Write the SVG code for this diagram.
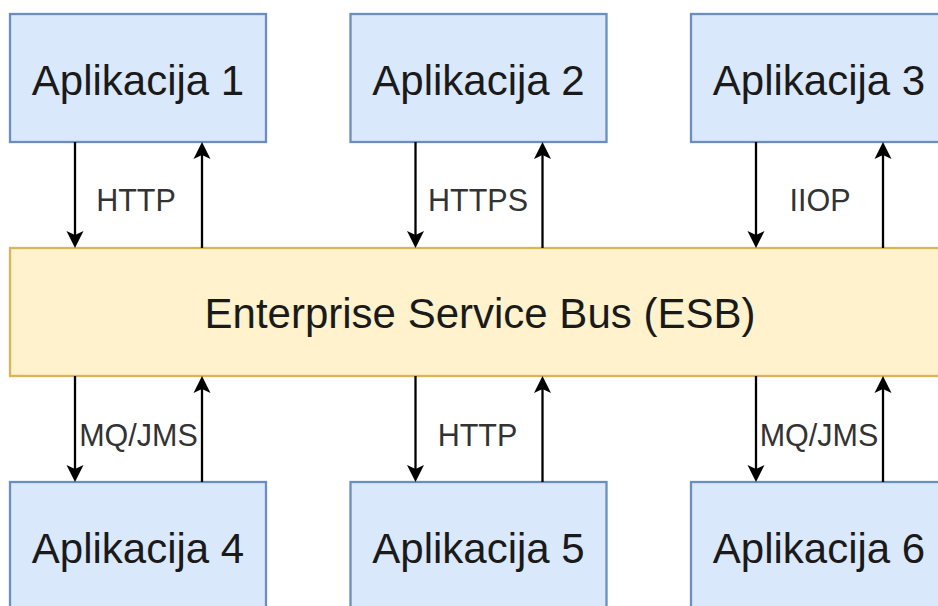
<svg xmlns="http://www.w3.org/2000/svg" width="938" height="606" viewBox="0 0 938 606">
  <style>
    .app { fill: #dae8fc; stroke: #6c8ebf; stroke-width: 2.3; }
    .esb { fill: #fff2cc; stroke: #d6b656; stroke-width: 2.3; }
    .big { font-family: "Liberation Sans", Arial, sans-serif; font-size: 42px; fill: #1a1a1a; text-anchor: middle; }
    .lbl { font-family: "Liberation Sans", Arial, sans-serif; font-size: 30.5px; fill: #333333; text-anchor: middle; }
    .conn { stroke: #000000; stroke-width: 2.3; fill: none; marker-end: url(#arrow); }
  </style>
  <defs>
    <marker id="arrow" markerUnits="userSpaceOnUse" viewBox="-6 -10 22 20" refX="0" refY="0" markerWidth="22" markerHeight="20" orient="auto" overflow="visible">
      <path d="M13,0 L-4,-8.5 L0,0 L-4,8.5 Z" fill="#000000" stroke="none"/>
    </marker>
  </defs>
  <rect width="938" height="606" fill="#ffffff"/>

  <g id="esb">
    <rect class="esb" x="10" y="248" width="940" height="128"/>
    <text class="big" x="480" y="328">Enterprise Service Bus (ESB)</text>
  </g>

  <g id="app1">
    <rect class="app" x="10" y="14" width="256" height="128"/>
    <text class="big" x="138" y="95">Aplikacija 1</text>
  </g>
  <g id="app2">
    <rect class="app" x="350.5" y="14" width="256" height="128"/>
    <text class="big" x="478.5" y="95">Aplikacija 2</text>
  </g>
  <g id="app3">
    <rect class="app" x="691" y="14" width="256" height="128"/>
    <text class="big" x="819" y="95">Aplikacija 3</text>
  </g>
  <g id="app4">
    <rect class="app" x="10" y="482" width="256" height="128"/>
    <text class="big" x="138" y="563">Aplikacija 4</text>
  </g>
  <g id="app5">
    <rect class="app" x="350.5" y="482" width="256" height="128"/>
    <text class="big" x="478.5" y="563">Aplikacija 5</text>
  </g>
  <g id="app6">
    <rect class="app" x="691" y="482" width="256" height="128"/>
    <text class="big" x="819" y="563">Aplikacija 6</text>
  </g>

  <g id="connectors">
    <!-- top: app -> ESB (down) and ESB -> app (up) -->
    <line class="conn" x1="75" y1="142" x2="75" y2="235"/>
    <line class="conn" x1="202" y1="248" x2="202" y2="155"/>
    <line class="conn" x1="415.5" y1="142" x2="415.5" y2="235"/>
    <line class="conn" x1="542.5" y1="248" x2="542.5" y2="155"/>
    <line class="conn" x1="756" y1="142" x2="756" y2="235"/>
    <line class="conn" x1="883" y1="248" x2="883" y2="155"/>
    <!-- bottom: ESB -> app (down) and app -> ESB (up) -->
    <line class="conn" x1="75" y1="376" x2="75" y2="469"/>
    <line class="conn" x1="202" y1="482" x2="202" y2="389"/>
    <line class="conn" x1="415.5" y1="376" x2="415.5" y2="469"/>
    <line class="conn" x1="542.5" y1="482" x2="542.5" y2="389"/>
    <line class="conn" x1="756" y1="376" x2="756" y2="469"/>
    <line class="conn" x1="883" y1="482" x2="883" y2="389"/>

    <text class="lbl" x="136" y="210.5">HTTP</text>
    <text class="lbl" x="478" y="210.5">HTTPS</text>
    <text class="lbl" x="820" y="210.5">IIOP</text>
    <text class="lbl" x="138.5" y="446">MQ/JMS</text>
    <text class="lbl" x="477.5" y="445.5">HTTP</text>
    <text class="lbl" x="819" y="446">MQ/JMS</text>
  </g>
</svg>
